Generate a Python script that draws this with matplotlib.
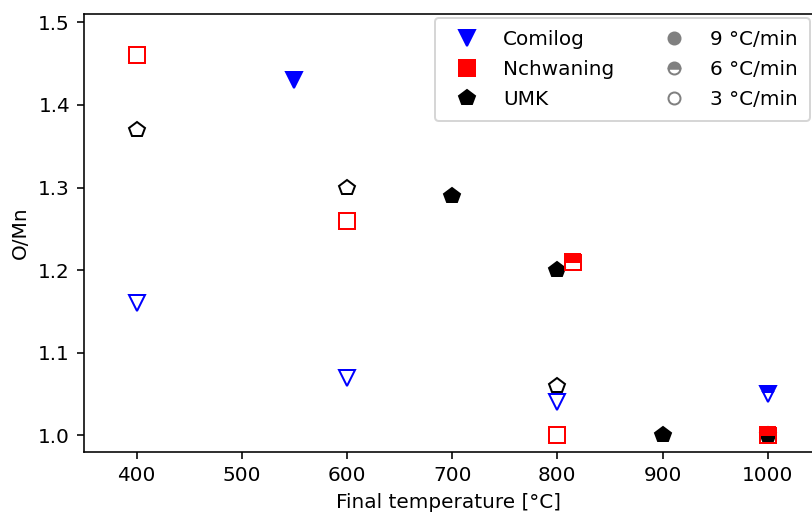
import matplotlib
matplotlib.use("Agg")
import matplotlib.pyplot as plt
from matplotlib.lines import Line2D

#------------------------------------------------------------------------
#                               Data
#------------------------------------------------------------------------
# final temperature [°C], O/Mn ratio, heating rate [°C/min]
comilog_T = [400, 550, 600, 800, 1000]
comilog_OMn = [1.16, 1.43, 1.07, 1.04, 1.05]
comilog_rate = [3, 9, 3, 3, 6]

nchwaning_T = [400, 600, 800, 815, 1000]
nchwaning_OMn = [1.46, 1.26, 1.00, 1.21, 1.00]
nchwaning_rate = [3, 3, 3, 6, 6]

umk_T = [400, 600, 700, 800, 800, 900, 1000]
umk_OMn = [1.37, 1.30, 1.29, 1.20, 1.06, 1.00, 1.00]
umk_rate = [3, 3, 9, 9, 3, 9, 9]

rates = [9, 6, 3]
rate_fill = {9: 'full', 6: 'top', 3: 'none'}

#------------------------------------------------------------------------
#                               Plot
#------------------------------------------------------------------------
fig = plt.figure(figsize=(812/144, 514/144), dpi=144)
ax = fig.add_axes([84/812, 1-452/514, 730/812, 438/514])

series = [
    (umk_T, umk_OMn, umk_rate, 'black', 'p'),
    (comilog_T, comilog_OMn, comilog_rate, 'blue', 'v'),
    (nchwaning_T, nchwaning_OMn, nchwaning_rate, 'red', 's'),
]
for T, omn, rate, col, mk in series:
    for t, y, r in zip(T, omn, rate):
        ax.plot(t, y, linestyle='none', marker=mk, markersize=8,
                color=col, fillstyle=rate_fill[r])

ax.set_xlim(350, 1044)
ax.set_ylim(0.98, 1.51)
ax.set_xticks([400, 500, 600, 700, 800, 900, 1000])
ax.set_yticks([1.0, 1.1, 1.2, 1.3, 1.4, 1.5])
ax.set_xlabel('Final temperature [°C]')
ax.set_ylabel('O/Mn')

# legend: ore type on the left, heating rate on the right
handles = [
    Line2D([], [], linestyle='none', marker='v', markersize=8, color='blue'),
    Line2D([], [], linestyle='none', marker='s', markersize=8, color='red'),
    Line2D([], [], linestyle='none', marker='p', markersize=8, color='black'),
]
labels = ['Comilog', 'Nchwaning', 'UMK']
for r in rates:
    handles.append(Line2D([], [], linestyle='none', marker='o', markersize=6,
                          color='gray', fillstyle=rate_fill[r]))
    labels.append(f'{r} °C/min')
ax.legend(handles, labels, ncol=2, loc='upper right', borderaxespad=0.2,
          borderpad=0.6, labelspacing=0.55)

fig.savefig('out.png', dpi=144)
